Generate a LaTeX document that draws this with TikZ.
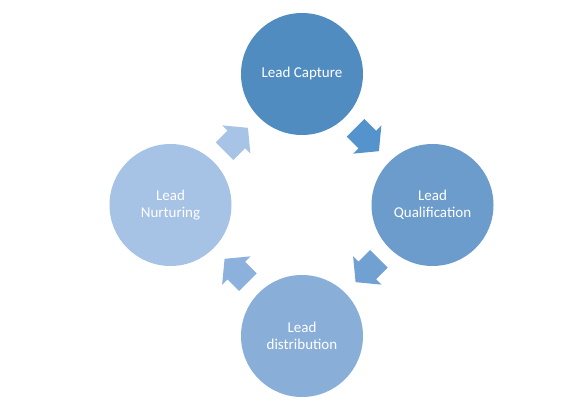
\documentclass[tikz,border=0pt]{standalone}
\usepackage{fontspec}
\setmainfont{Carlito}
\usetikzlibrary{calc}
\definecolor{cA}{HTML}{518CC1}
\definecolor{cB}{HTML}{6B9CCB}
\definecolor{cC}{HTML}{89AED8}
\definecolor{cD}{HTML}{A6C2E4}
\definecolor{aA}{HTML}{5593CC}
\definecolor{aB}{HTML}{71A1D3}
\definecolor{aC}{HTML}{8CB1DD}
\definecolor{aD}{HTML}{A7C3E6}
\begin{document}
\begin{tikzpicture}[x=1pt,y=1pt,
  stage/.style={circle, minimum size=122pt, inner sep=0pt, text=white, align=center,
    font=\fontsize{15}{17}\selectfont},
  blockarrow/.pic={\path[pic actions] (-16.5,12.4) -- (0,12.4) -- (0,20) -- (16.5,0)
    -- (0,-20) -- (0,-12.4) -- (-16.5,-12.4) -- cycle;}]
\useasboundingbox (0,0) rectangle (586,410);
\node[stage, fill=cA] (capture) at (302,336) {Lead Capture};
\node[stage, fill=cB] (qual) at (432.5,205) {Lead\\Qualification};
\node[stage, fill=cC] (dist) at (302,74) {Lead\\distribution};
\node[stage, fill=cD] (nurt) at (170.5,205) {Lead\\Nurturing};
\pic[fill=aA, rotate=-45] at ($(capture)!0.5!(qual)$) {blockarrow};
\pic[fill=aB, rotate=-135] at ($(qual)!0.5!(dist)$) {blockarrow};
\pic[fill=aC, rotate=135] at ($(dist)!0.5!(nurt)$) {blockarrow};
\pic[fill=aD, rotate=45] at ($(nurt)!0.5!(capture)$) {blockarrow};
\end{tikzpicture}
\end{document}
